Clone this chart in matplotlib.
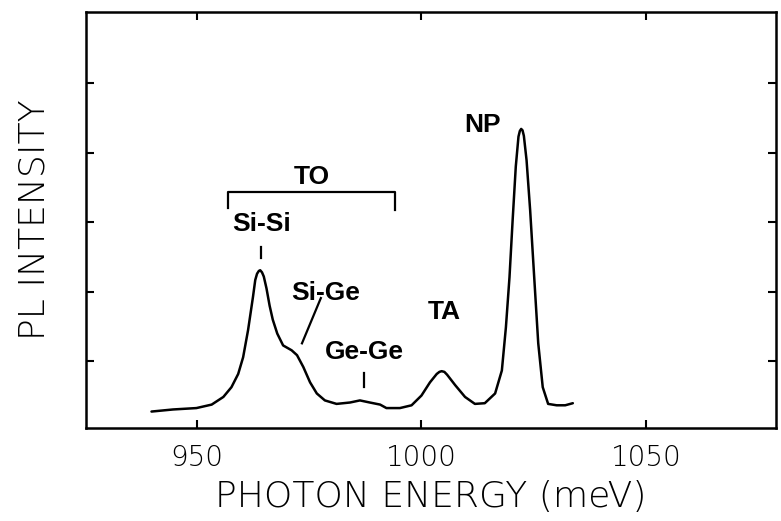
import matplotlib
matplotlib.use("Agg")
import matplotlib.pyplot as plt

plt.rcParams["font.family"] = "DejaVu Sans"

# PL spectrum (photon energy in meV, intensity in arb. units)
energy = [939.9, 944.7, 949.9, 953.3, 955.9, 957.7, 959.2, 960.3, 961.4, 962.5,
          963.0, 963.4, 963.8, 964.1, 964.5, 964.9, 965.5, 966.2, 966.9, 967.9,
          969.2, 971.1, 972.3, 973.7,
          975.2, 976.7, 978.5, 981.1, 984.1, 986.3, 988.5, 990.8, 992.2, 995.2,
          997.8, 1000.0, 1001.9, 1003.4, 1004.0, 1004.5, 1005.1, 1005.7, 1007.5, 1009.7,
          1011.9, 1014.1,
          1016.4, 1017.9, 1018.8, 1019.6, 1020.3, 1021.0, 1021.6, 1021.9, 1022.2, 1022.5,
          1022.8, 1023.4,
          1024.2, 1025.1, 1026.0, 1027.0, 1028.2, 1030.1, 1032.0, 1033.7]
intensity = [0.28, 0.31, 0.33, 0.38, 0.49, 0.63, 0.82, 1.06, 1.45, 1.93,
             2.17, 2.26, 2.30, 2.31, 2.28, 2.22, 2.05, 1.80, 1.60, 1.40,
             1.23, 1.16, 1.09, 0.92,
             0.70, 0.54, 0.44, 0.39, 0.41, 0.44, 0.41, 0.38, 0.33, 0.33,
             0.37, 0.51, 0.70, 0.82, 0.85, 0.86, 0.85, 0.81, 0.66, 0.49,
             0.39, 0.40,
             0.54, 0.87, 1.49, 2.21, 3.03, 3.80, 4.23, 4.31, 4.34, 4.32,
             4.24, 3.89,
             3.17, 2.21, 1.26, 0.63, 0.39, 0.37, 0.37, 0.40]

x_ticks = [950, 1000, 1050]
y_ticks = [1, 2, 3, 4, 5]

label_font = ["Liberation Sans Narrow", "Liberation Sans", "DejaVu Sans"]

fig = plt.figure(figsize=(7.81, 5.21), dpi=100)
ax = fig.add_axes([0.110, 0.178, 0.884, 0.799])

ax.plot(energy, intensity, color="black", linewidth=1.8,
        solid_joinstyle="round", solid_capstyle="round")

ax.set_xlim(925.3, 1079)
ax.set_ylim(0.04, 6.02)
ax.set_xticks(x_ticks)
ax.set_yticks(y_ticks)
ax.set_yticklabels([])
ax.tick_params(direction="in", length=6, width=1.5, top=True, right=True,
               labelsize=20, pad=11)
for lbl in ax.get_xticklabels():
    lbl.set_fontweight("light")
for s in ax.spines.values():
    s.set_linewidth(1.8)

ax.set_xlabel("PHOTON ENERGY (meV)", fontsize=26, fontweight="light", labelpad=6)
ax.set_ylabel("PL INTENSITY", fontsize=26, fontweight="light", labelpad=14)

# peak labels
txt = dict(family=label_font, fontsize=19, fontweight="bold", ha="center", va="center")
ax.text(1013.5, 4.40, "NP", **txt)
ax.text(975.6, 3.65, "TO", **txt)
ax.text(964.5, 2.97, "Si-Si", **txt)
ax.text(978.7, 1.99, "Si-Ge", **txt)
ax.text(987.4, 1.13, "Ge-Ge", **txt)
ax.text(1005.0, 1.71, "TA", **txt)

# TO bracket and marker lines
lw = 1.6
ax.plot([956.9, 956.9, 994.1, 994.1], [3.20, 3.43, 3.43, 3.17], color="black", lw=lw)
ax.plot([964.25, 964.25], [2.48, 2.64], color="black", lw=lw)
ax.plot([977.6, 973.4], [1.91, 1.26], color="black", lw=lw)
ax.plot([987.2, 987.2], [0.63, 0.84], color="black", lw=lw)

fig.savefig("out.png", dpi=100)
